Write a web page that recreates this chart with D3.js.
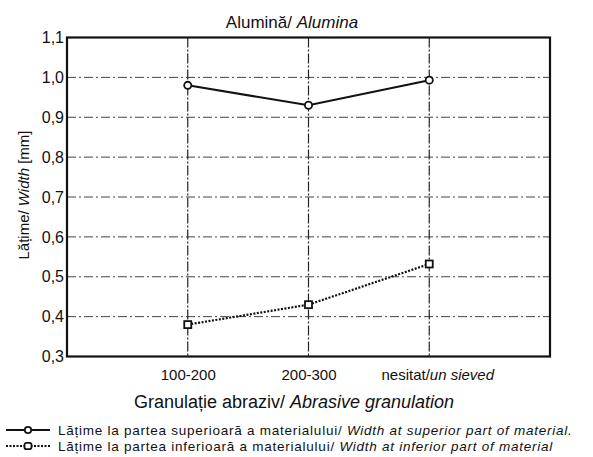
<!DOCTYPE html>
<html>
<head>
<meta charset="utf-8">
<script src="https://cdn.jsdelivr.net/npm/d3@7"></script>
<style>
  html, body { margin: 0; padding: 0; background: #fff; }
  svg { display: block; font-family: "Liberation Sans", Arial, sans-serif; }
</style>
</head>
<body>
<svg id="chart" width="593" height="457"></svg>
<script>
// Abrasive granulation categories and measured widths (mm)
const categories = ["100-200", "200-300", "nesitat/un sieved"];
const widthSuperior = [0.98, 0.93, 0.993];
const widthInferior = [0.38, 0.43, 0.532];
const yTicks = [0.3, 0.4, 0.5, 0.6, 0.7, 0.8, 0.9, 1.0, 1.1];

const svg = d3.select("#chart");
const margin = { left: 67, right: 43, top: 37.5, bottom: 100.5 };
const W = 593, H = 457;
const x0 = margin.left, x1 = W - margin.right;
const y0 = H - margin.bottom, y1 = margin.top;

const x = d3.scalePoint().domain(categories).range([x0, x1]).padding(1);
const y = d3.scaleLinear().domain([0.3, 1.1]).range([y0, y1]);

const fmt = v => d3.format(".1f")(v).replace(".", ",");
const ink = "#111";

// Horizontal grid (dash-dot)
svg.append("g").selectAll("line").data(yTicks.slice(1, -1)).join("line")
  .attr("x1", x0).attr("x2", x1)
  .attr("y1", d => y(d)).attr("y2", d => y(d))
  .attr("stroke", "#444").attr("stroke-width", 1)
  .attr("stroke-dasharray", "9,3,2,3");

// Vertical grid at category positions
svg.append("g").selectAll("line").data(categories).join("line")
  .attr("x1", d => x(d)).attr("x2", d => x(d))
  .attr("y1", y1).attr("y2", y0)
  .attr("stroke", "#222").attr("stroke-width", 1.2)
  .attr("stroke-dasharray", "10,2,2,2");

// Y axis tick labels
const yAxis = d3.axisLeft(y).tickValues(yTicks).tickFormat(fmt).tickSize(0).tickPadding(3);
const gy = svg.append("g").attr("transform", `translate(${x0},0)`).call(yAxis);
gy.select(".domain").remove();
gy.selectAll("text").attr("font-size", 16).attr("fill", ink)
  .attr("font-family", "Liberation Sans, Arial, sans-serif");

// X axis tick labels
const xAxis = d3.axisBottom(x).tickSize(0).tickPadding(13);
const gx = svg.append("g").attr("transform", `translate(0,${y0})`).call(xAxis);
gx.select(".domain").remove();
gx.selectAll("text").each(function(d) {
  const t = d3.select(this).text("")
    .attr("font-size", 15).attr("fill", ink)
    .attr("font-family", "Liberation Sans, Arial, sans-serif");
  const parts = d.split("/");
  if (parts.length > 1) {
    t.attr("dx", 8);
    t.append("tspan").text(parts[0] + "/");
    t.append("tspan").attr("font-style", "italic").text(parts[1]);
  } else {
    t.text(d);
  }
});

// Plot border
svg.append("rect")
  .attr("x", x0).attr("y", y1).attr("width", x1 - x0).attr("height", y0 - y1)
  .attr("fill", "none").attr("stroke", ink).attr("stroke-width", 2.2);

// Series: superior width (solid, circles)
const line = d3.line().x((d, i) => x(categories[i])).y(d => y(d));
svg.append("path").datum(widthSuperior)
  .attr("d", line).attr("fill", "none")
  .attr("stroke", ink).attr("stroke-width", 2);
svg.append("g").selectAll("circle").data(widthSuperior).join("circle")
  .attr("cx", (d, i) => x(categories[i])).attr("cy", d => y(d)).attr("r", 3.6)
  .attr("fill", "#fff").attr("stroke", ink).attr("stroke-width", 1.8);

// Series: inferior width (dotted, squares)
svg.append("path").datum(widthInferior)
  .attr("d", line).attr("fill", "none")
  .attr("stroke", ink).attr("stroke-width", 2.2)
  .attr("stroke-dasharray", "2,1.5");
svg.append("g").selectAll("rect").data(widthInferior).join("rect")
  .attr("x", (d, i) => x(categories[i]) - 3.5).attr("y", d => y(d) - 3.5)
  .attr("width", 7).attr("height", 7)
  .attr("fill", "#fff").attr("stroke", ink).attr("stroke-width", 1.8);

// Title
const title = svg.append("text").attr("x", 292).attr("y", 28)
  .attr("text-anchor", "middle").attr("font-size", 17).attr("fill", ink);
title.append("tspan").text("Alumină/ ");
title.append("tspan").attr("font-style", "italic").text("Alumina");

// X axis title
const xt = svg.append("text").attr("x", 294).attr("y", 408)
  .attr("text-anchor", "middle").attr("font-size", 18).attr("fill", ink);
xt.append("tspan").text("Granulație abraziv/ ");
xt.append("tspan").attr("font-style", "italic").text("Abrasive granulation");

// Y axis title
const yt = svg.append("text")
  .attr("transform", "translate(29,195) rotate(-90)")
  .attr("text-anchor", "middle").attr("font-size", 15).attr("fill", ink);
yt.append("tspan").text("Lățime/ ");
yt.append("tspan").attr("font-style", "italic").text("Width");
yt.append("tspan").text(" [mm]");

// Legend
const legend = [
  { ro: "Lățime la partea superioară a materialului/ ", en: "Width at superior part of material.", dash: null, shape: "circle" },
  { ro: "Lățime la partea inferioară a materialului/ ", en: "Width at inferior part of material", dash: "2,1.5", shape: "square" }
];
const lg = svg.append("g").selectAll("g").data(legend).join("g")
  .attr("transform", (d, i) => `translate(0,${430 + i * 16})`);
lg.append("line").attr("x1", 6).attr("x2", 50).attr("y1", 0).attr("y2", 0)
  .attr("stroke", ink).attr("stroke-width", 2)
  .attr("stroke-dasharray", d => d.dash);
lg.filter(d => d.shape === "circle").append("circle")
  .attr("cx", 28).attr("cy", 0).attr("r", 3.2)
  .attr("fill", "#fff").attr("stroke", ink).attr("stroke-width", 1.8);
lg.filter(d => d.shape === "square").append("rect")
  .attr("x", 24.5).attr("y", -3.2).attr("width", 7).attr("height", 6.4).attr("rx", 2)
  .attr("fill", "#fff").attr("stroke", ink).attr("stroke-width", 1.8);
const lt = lg.append("text").attr("x", 58).attr("y", 5)
  .attr("font-size", 13.5).attr("letter-spacing", 0.75).attr("fill", ink);
lt.append("tspan").text(d => d.ro);
lt.append("tspan").attr("font-style", "italic").text(d => d.en);
</script>
</body>
</html>
